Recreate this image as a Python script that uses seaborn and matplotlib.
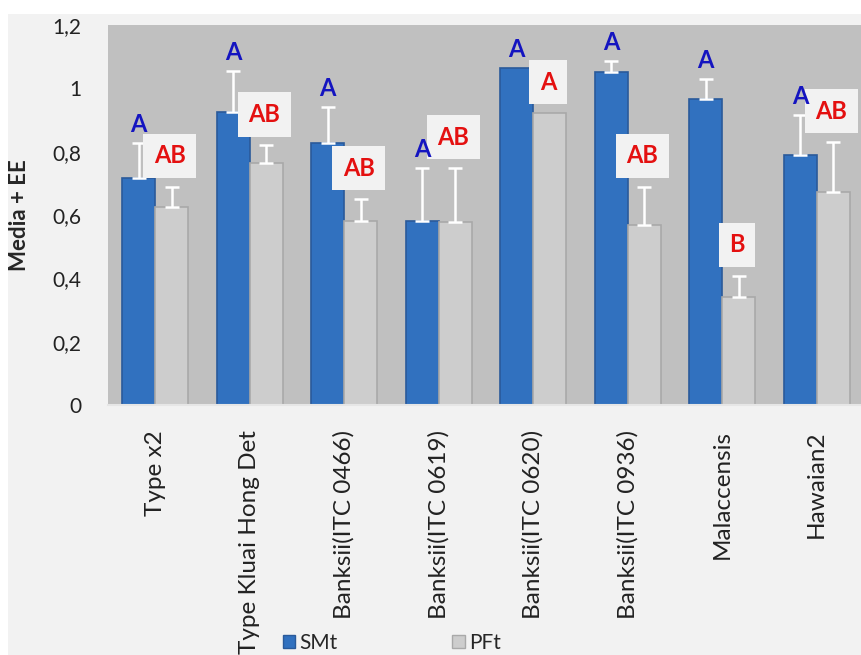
import pandas as pd
import seaborn as sns
import matplotlib.pyplot as plt
from matplotlib.patches import Rectangle, Patch

# data
cultivares = ['Type x2', 'Type Kluai Hong Det', 'Banksii(ITC 0466)',
              'Banksii(ITC 0619)', 'Banksii(ITC 0620)', 'Banksii(ITC 0936)',
              'Malaccensis', 'Hawaian2']
smt = [0.717, 0.925, 0.828, 0.581, 1.065, 1.050, 0.965, 0.790]
smt_ee = [0.110, 0.130, 0.112, 0.167, 0.0, 0.035, 0.065, 0.126]
pft = [0.625, 0.764, 0.581, 0.578, 0.922, 0.568, 0.342, 0.673]
pft_ee = [0.064, 0.056, 0.069, 0.170, 0.0, 0.121, 0.066, 0.157]
letras_smt = ['A', 'A', 'A', 'A', 'A', 'A', 'A', 'A']
letras_pft = ['AB', 'AB', 'AB', 'AB', 'A', 'AB', 'B', 'AB']
yticks = [0, 0.2, 0.4, 0.6, 0.8, 1.0, 1.2]
ytick_labels = ['0', '0,2', '0,4', '0,6', '0,8', '1', '1,2']

db = pd.DataFrame({'cultivar': cultivares * 2,
                   'grupo': ['SMt'] * len(smt) + ['PFt'] * len(pft),
                   'media': smt + pft})

sns.set_style('white')
plt.rcParams['font.family'] = ['Lato', 'DejaVu Sans']

W, H = 862, 655
fig = plt.figure(figsize=(W / 100, H / 100), dpi=100)
fig.patch.set_facecolor('white')
fig.patches.append(Rectangle((8 / W, 0), 1, 1 - 14 / H, transform=fig.transFigure,
                             facecolor='#F2F2F2', edgecolor='none', zorder=-5))

ax = fig.add_axes([108 / W, 1 - 405 / H, 756 / W, 380 / H])
ax.set_facecolor('#C0C0C0')

cores = {'SMt': '#3171BF', 'PFt': '#CDCDCD'}
sns.barplot(data=db, x='cultivar', y='media', hue='grupo', palette=cores,
            width=0.7, saturation=1, legend=False, ax=ax, errorbar=None)

# bar edges + upward-only error bars + letters
for cont, ee, letras, grupo in zip(ax.containers, [smt_ee, pft_ee],
                                   [letras_smt, letras_pft], ['SMt', 'PFt']):
    for bar, e, l in zip(cont, ee, letras):
        bar.set_edgecolor('#2A5A9A' if grupo == 'SMt' else '#A9A9A9')
        bar.set_linewidth(1.2)
        x = bar.get_x() + bar.get_width() / 2
        y = bar.get_height()
        if e > 0:
            ax.errorbar(x, y, yerr=[[0], [e]], color='white', capsize=5,
                        elinewidth=1.8, capthick=1.8, zorder=4)
        if grupo == 'SMt':
            ax.annotate(l, (x, y + e), xytext=(0, 5), textcoords='offset points',
                        ha='center', va='bottom', color='#1414C0',
                        fontsize=17, fontweight='bold', zorder=7)
        else:
            ax.annotate(l, (x - 0.02, y + e), xytext=(0, 14),
                        textcoords='offset points',
                        ha='center', va='bottom', color='#E41010',
                        fontsize=17, fontweight='bold', zorder=6,
                        bbox=dict(boxstyle='square,pad=0.45', facecolor='#F2F2F2',
                                  edgecolor='none'))

ax.set_xlim(-0.5, len(cultivares) - 0.5)
ax.set_ylim(0, 1.2)
ax.set_yticks(yticks)
ax.set_yticklabels(ytick_labels)
ax.set_xlabel('')
ax.set_ylabel('Media + EE', fontsize=16, fontweight='bold')
ax.yaxis.set_label_coords(-78 / 756, 0.5)
ax.tick_params(axis='y', length=0, pad=19, labelsize=15, labelcolor='#222222')
ax.tick_params(axis='x', length=0, pad=18, labelsize=17.5, labelrotation=90,
               labelcolor='#222222')
for s in ['top', 'right', 'left']:
    ax.spines[s].set_visible(False)
ax.spines['bottom'].set_color('#E6E6E6')
ax.spines['bottom'].set_linewidth(1.5)

handles = [Patch(facecolor=cores['SMt'], edgecolor='#2A5A9A', label='SMt'),
           Patch(facecolor=cores['PFt'], edgecolor='#A9A9A9', label='PFt')]
fig.legend(handles=handles, loc='center', bbox_to_anchor=(392 / W, 1 - 643 / H),
           ncol=2, frameon=False, fontsize=15, handlelength=0.6, handleheight=0.6,
           handletextpad=0.2, columnspacing=5.5)

plt.savefig('out.png', dpi=100)
